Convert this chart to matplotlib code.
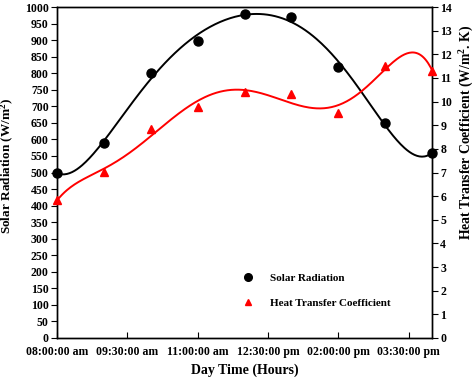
import numpy as np
import matplotlib.pyplot as plt

# hours of the day (8 am .. 4 pm)
hours = [8, 9, 10, 11, 12, 13, 14, 15, 16]
solar = [499, 588, 800, 898, 979, 969, 820, 649, 558]
htc = [5.84, 7.03, 8.83, 9.76, 10.42, 10.31, 9.50, 11.51, 11.31]

tick_hours = [8, 9.5, 11, 12.5, 14, 15.5]
tick_labels = ["08:00:00 am", "09:30:00 am", "11:00:00 am",
               "12:30:00 pm", "02:00:00 pm", "03:30:00 pm"]


def main():
    plt.rcParams["font.family"] = ["Liberation Serif", "DejaVu Serif"]
    plt.rcParams["font.weight"] = "bold"
    plt.rcParams["mathtext.fontset"] = "custom"
    plt.rcParams["mathtext.rm"] = "Liberation Serif:bold"
    plt.rcParams["mathtext.it"] = "Liberation Serif:bold"
    plt.rcParams["mathtext.bf"] = "Liberation Serif:bold"

    fig = plt.figure(figsize=(4.76, 3.83), dpi=100)
    ax = fig.add_axes([57 / 476, 1 - 338 / 383, 375 / 476, 331 / 383])
    ax2 = ax.twinx()

    x = np.array(hours, dtype=float)
    xs = np.linspace(8, 16, 300)

    # smooth fitted curves
    ps = np.polyfit(x, solar, 6)
    ph = np.polyfit(x, htc, 6)
    ax.plot(xs, np.polyval(ps, xs), color="black", lw=1.4, zorder=2)
    ax2.plot(xs, np.polyval(ph, xs), color="red", lw=1.4, zorder=2)

    ax.plot(x, solar, "o", color="black", ms=6.5, clip_on=False, zorder=3)
    ax2.plot(x, htc, "^", color="red", ms=6, clip_on=False, zorder=3)

    ax.set_xlim(8, 16)
    ax.set_ylim(0, 1000)
    ax2.set_ylim(0, 14)
    ax.set_yticks(np.arange(0, 1001, 50))
    ax2.set_yticks(np.arange(0, 15, 1))
    ax.set_xticks(tick_hours)
    ax.set_xticklabels(tick_labels)

    ax.tick_params(axis="x", direction="in", length=4, labelsize=8.5, pad=6)
    ax.tick_params(axis="y", direction="out", length=4, labelsize=8.5, pad=2)
    ax2.tick_params(axis="y", direction="out", length=4, labelsize=8.5, pad=2)
    for a in (ax, ax2):
        for s in a.spines.values():
            s.set_linewidth(1.0)

    ax.set_xlabel("Day Time (Hours)", fontsize=10, fontweight="bold", labelpad=4)
    ax.set_ylabel("Solar Radiation (W/m$^{2}$)", fontsize=9.5, fontweight="bold")
    ax2.set_ylabel("Heat Transfer Coefficient (W/m$^{2}$. K)", fontsize=9.8,
                   fontweight="bold")
    ax.yaxis.set_label_coords(-0.108, 0.52)
    ax2.yaxis.set_label_coords(1.068, 0.62)

    # legend
    ax.plot([], [], "o", color="black", ms=5.5, label="Solar Radiation")
    ax.plot([], [], "^", color="red", ms=4.5, label="Heat Transfer Coefficient")
    h, l = ax.get_legend_handles_labels()
    ax.legend(h[-2:], l[-2:], loc="upper left", bbox_to_anchor=(0.46, 0.225),
              frameon=False, fontsize=8, handletextpad=1.2, labelspacing=1.35,
              handlelength=1.5)

    fig.savefig("out.png", dpi=100)


if __name__ == "__main__":
    main()
